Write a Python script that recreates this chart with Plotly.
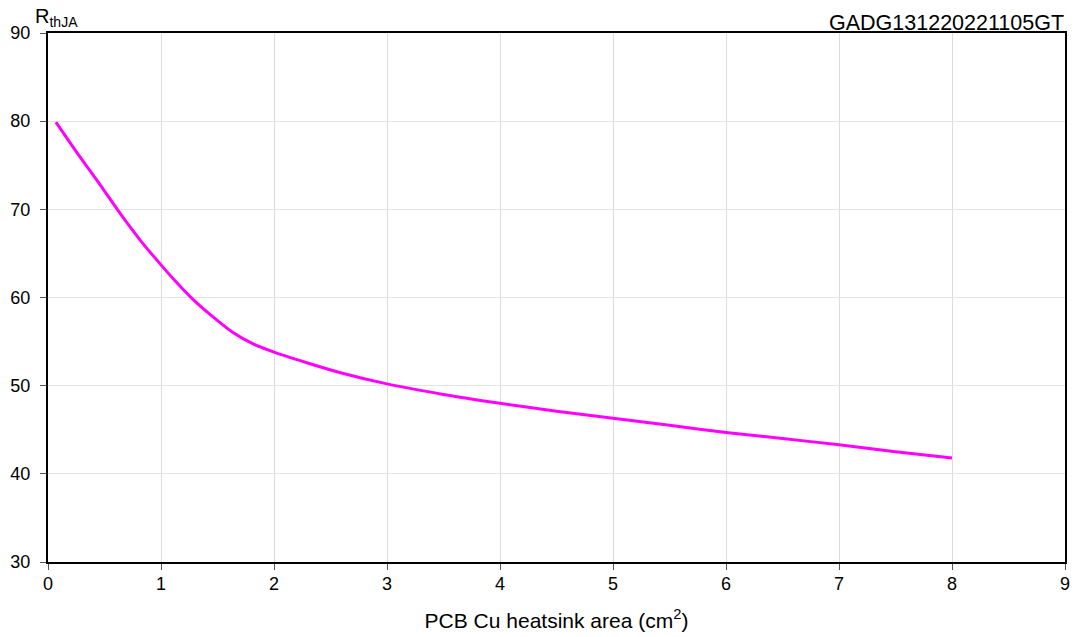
import plotly.graph_objects as go

area_cm2 = [0.07, 0.28, 0.46, 0.64, 0.81, 1.0, 1.11, 1.29, 1.46, 1.64, 1.82, 2.0, 2.29, 2.58, 3.0, 3.5, 4.0, 4.5, 5.0, 5.5, 6.0, 6.5, 7.0, 7.5, 8.0]
rth_ja = [79.9, 76.0, 72.8, 69.5, 66.6, 63.7, 62.1, 59.7, 57.8, 56.0, 54.7, 53.8, 52.6, 51.5, 50.2, 49.0, 48.0, 47.1, 46.3, 45.5, 44.7, 44.0, 43.3, 42.5, 41.8]

x_ticks = list(range(0, 10))
y_ticks = [30, 40, 50, 60, 70, 80, 90]

FONT = "Liberation Sans, Arial, sans-serif"

fig = go.Figure()
fig.add_trace(go.Scatter(x=area_cm2, y=rth_ja, mode="lines",
                         line=dict(color="#ff00ff", width=3, shape="spline", smoothing=0.7),
                         showlegend=False, hoverinfo="skip"))

# page body has an 8px margin; sizes compensate so the plot lands where the reference has it
fig.update_layout(
    width=1071, height=629,
    margin=dict(l=40, r=14, t=25, b=75, autoexpand=False),
    paper_bgcolor="white", plot_bgcolor="white",
    font=dict(family=FONT, size=18, color="black"),
)
fig.update_xaxes(range=[0, 9], tickvals=x_ticks, showgrid=True, gridcolor="#dcdcdc", gridwidth=1,
                 showline=True, linecolor="black", linewidth=2, mirror=True,
                 ticks="outside", ticklen=6, tickcolor="#555", tickwidth=1,
                 tickfont=dict(size=18), zeroline=False, automargin=False, ticklabelstandoff=-2,
                 title=dict(text="PCB Cu heatsink area (cm<sup>2</sup>)", font=dict(size=21), standoff=21))
fig.update_yaxes(range=[30, 90], tickvals=y_ticks, showgrid=True, gridcolor="#e4e4e4", gridwidth=1,
                 showline=True, linecolor="black", linewidth=2, mirror=True,
                 ticks="outside", ticklen=6, tickcolor="#555", tickwidth=1,
                 tickfont=dict(size=18), zeroline=False, automargin=False, ticklabelstandoff=6)

fig.add_annotation(text="R<sub>thJA</sub>", xref="paper", yref="paper", x=(33 - 48) / 1017, y=1,
                   xanchor="left", yanchor="bottom", yshift=1, showarrow=False,
                   font=dict(size=20, family=FONT))
fig.add_annotation(text="GADG131220221105GT", xref="paper", yref="paper", x=1, y=1, xanchor="right",
                   yanchor="bottom", xshift=1, yshift=-4, showarrow=False, font=dict(size=21.5, family=FONT))

fig.write_html("out.html")
